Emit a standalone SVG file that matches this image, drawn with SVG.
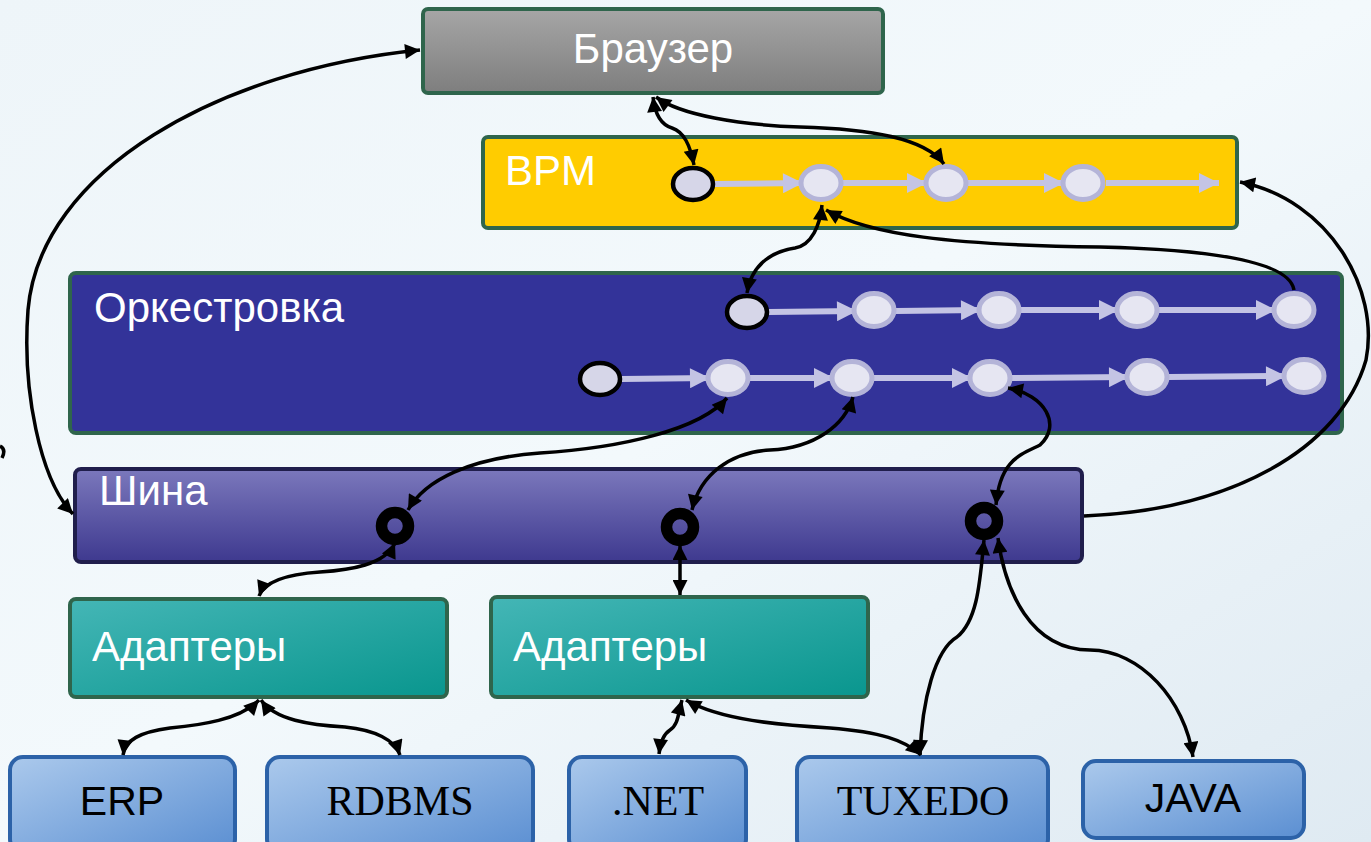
<svg xmlns="http://www.w3.org/2000/svg" width="1371" height="842" viewBox="0 0 1371 842">
<defs>
<linearGradient id="bg" x1="0" y1="0" x2="1" y2="1"><stop offset="0" stop-color="#eef5f9"/><stop offset="0.5" stop-color="#f3f9fc"/><stop offset="1" stop-color="#dfeaf2"/></linearGradient>
<linearGradient id="gBrowser" x1="0" y1="0" x2="0" y2="1"><stop offset="0" stop-color="#a6a6a6"/><stop offset="1" stop-color="#7e7e7e"/></linearGradient>
<linearGradient id="gBus" x1="0" y1="0" x2="0" y2="1"><stop offset="0" stop-color="#7b78bc"/><stop offset="1" stop-color="#3e398f"/></linearGradient>
<linearGradient id="gAd" x1="0" y1="0" x2="1" y2="1"><stop offset="0" stop-color="#44b6b6"/><stop offset="1" stop-color="#09968e"/></linearGradient>
<linearGradient id="gSys" x1="0" y1="0" x2="1" y2="1"><stop offset="0" stop-color="#abc9ec"/><stop offset="1" stop-color="#5b8fd2"/></linearGradient>
<marker id="ah" viewBox="0 0 10 10" refX="10" refY="5" markerWidth="19" markerHeight="15" markerUnits="userSpaceOnUse" orient="auto-start-reverse"><path d="M0,0 L10,5 L0,10 z" fill="#000"/></marker>
<marker id="fl" viewBox="0 0 10 10" refX="10" refY="5" markerWidth="22" markerHeight="20" markerUnits="userSpaceOnUse" orient="auto"><path d="M0,0 L10,5 L0,10 z" fill="#c4c4e4"/></marker>
</defs>
<style>
.lbl{font-family:"Liberation Sans",Arial,sans-serif;font-size:42px;fill:#fff}
.sys{font-family:"Liberation Sans",Arial,sans-serif;font-size:41px;fill:#000;text-anchor:middle}
.sysr{font-family:"Liberation Serif","Times New Roman",serif;font-size:42px;fill:#000;text-anchor:middle}
.box{stroke:#2f654c;stroke-width:4}
.sbox{fill:url(#gSys);stroke:#2c62a8;stroke-width:4}
.flow{stroke:#c4c4e4;stroke-width:6;fill:none;marker-end:url(#fl)}
.st{fill:#d6d6e8;stroke:#000;stroke-width:4.5}
.nd{fill:#e6e6f2;stroke:#b4b4d8;stroke-width:5}
.port{fill:none;stroke:#000;stroke-width:11.5}
.c{fill:none;stroke:#000;stroke-width:3.5}
.bi{marker-start:url(#ah);marker-end:url(#ah)}
.one{marker-end:url(#ah)}
</style>
<rect x="0" y="0" width="1371" height="842" fill="url(#bg)"/>

<g id="browser"><rect class="box" x="423" y="9" width="460" height="84" rx="5" fill="url(#gBrowser)"/><text class="lbl" x="653" y="63" text-anchor="middle">Браузер</text></g>

<g id="bpm"><rect class="box" x="483" y="137" width="754" height="91" rx="5" fill="#ffcc00"/><text class="lbl" x="505" y="185">BPM</text>
<line class="flow" x1="715" y1="184" x2="803" y2="183"/>
<line class="flow" x1="843" y1="183" x2="927" y2="183"/>
<line class="flow" x1="968" y1="183" x2="1064" y2="183"/>
<line class="flow" x1="1106" y1="183" x2="1219" y2="183"/>
<ellipse class="st" cx="693" cy="184" rx="20" ry="16"/>
<ellipse class="nd" cx="821" cy="183" rx="20" ry="16.5"/>
<ellipse class="nd" cx="946" cy="183" rx="20" ry="16.5"/>
<ellipse class="nd" cx="1083" cy="183" rx="20" ry="16.5"/>
</g>

<g id="orchestration"><rect class="box" x="70" y="273" width="1272" height="160" rx="6" fill="#333399"/><text class="lbl" x="94" y="322">Оркестровка</text>
<line class="flow" x1="769" y1="312" x2="857" y2="311"/>
<line class="flow" x1="896" y1="311" x2="981" y2="310"/>
<line class="flow" x1="1021" y1="310" x2="1119" y2="310"/>
<line class="flow" x1="1159" y1="310" x2="1276" y2="310"/>
<line class="flow" x1="622" y1="379" x2="710" y2="378"/>
<line class="flow" x1="750" y1="378" x2="834" y2="378"/>
<line class="flow" x1="874" y1="378" x2="972" y2="378"/>
<line class="flow" x1="1012" y1="378" x2="1129" y2="377"/>
<line class="flow" x1="1169" y1="377" x2="1286" y2="376"/>
<ellipse class="st" cx="747" cy="312" rx="20" ry="16"/>
<ellipse class="nd" cx="874" cy="310" rx="20" ry="16.5"/>
<ellipse class="nd" cx="999" cy="310" rx="20" ry="16.5"/>
<ellipse class="nd" cx="1137" cy="310" rx="20" ry="16.5"/>
<ellipse class="nd" cx="1294" cy="310" rx="20" ry="16.5"/>
<ellipse class="st" cx="600" cy="379" rx="20" ry="16"/>
<ellipse class="nd" cx="728" cy="378" rx="20" ry="16.5"/>
<ellipse class="nd" cx="852" cy="378" rx="20" ry="16.5"/>
<ellipse class="nd" cx="990" cy="378" rx="20" ry="16.5"/>
<ellipse class="nd" cx="1147" cy="377" rx="20" ry="16.5"/>
<ellipse class="nd" cx="1304" cy="376" rx="20" ry="16.5"/>
</g>

<g id="bus"><rect x="75" y="469" width="1007" height="93" rx="6" fill="url(#gBus)" stroke="#201e4c" stroke-width="4"/><text class="lbl" x="99" y="505">Шина</text>
<ellipse class="port" cx="395" cy="526" rx="13.5" ry="13.5"/>
<ellipse class="port" cx="680" cy="527" rx="13.5" ry="13.5"/>
<ellipse class="port" cx="984" cy="521" rx="13.5" ry="13.5"/>
</g>

<g id="adapters1"><rect class="box" x="70" y="599" width="377" height="98" rx="6" fill="url(#gAd)"/><text class="lbl" x="92" y="661">Адаптеры</text></g>
<g id="adapters2"><rect class="box" x="491" y="597" width="377" height="100" rx="6" fill="url(#gAd)"/><text class="lbl" x="513" y="661">Адаптеры</text></g>

<g id="erp"><rect class="sbox" x="10" y="757" width="225" height="95" rx="13"/><text class="sys" x="122" y="815">ERP</text></g>
<g id="rdbms"><rect class="sbox" x="267" y="757" width="266" height="95" rx="13"/><text class="sysr" x="400" y="815">RDBMS</text></g>
<g id="dotnet"><rect class="sbox" x="569" y="757" width="177" height="95" rx="13"/><text class="sysr" x="658" y="815">.NET</text></g>
<g id="tuxedo"><rect class="sbox" x="797" y="757" width="251" height="95" rx="13"/><text class="sysr" x="923" y="815">TUXEDO</text></g>
<g id="java"><rect class="sbox" x="1083" y="761" width="221" height="77" rx="13"/><text class="sys" x="1193" y="812">JAVA</text></g>

<g id="connectors">
<path class="c bi" d="M 420 50 C 220 70, 40 170, 28 310 C 22 390, 40 480, 73 514"/>
<path class="c bi" d="M 653 97 C 655 115, 662 125, 672 128 C 684 132, 690 145, 694 165"/>
<path class="c bi" d="M 656 97 C 680 115, 740 125, 800 127 C 870 129, 925 138, 944 164"/>
<path class="c bi" d="M 822 205 C 820 225, 812 245, 795 248 C 775 251, 752 262, 747 293"/>
<path class="c one" d="M 1294 290 C 1290 265, 1230 250, 1100 247 C 950 245, 870 235, 826 210"/>
<path class="c one" d="M 1084 516 C 1230 510, 1340 450, 1366 360 C 1380 290, 1330 200, 1240 182"/>
<path class="c bi" d="M 727 398 C 700 430, 620 448, 540 453 C 470 458, 425 480, 408 510"/>
<path class="c bi" d="M 853 397 C 845 425, 815 448, 770 450 C 730 452, 700 475, 692 510"/>
<path class="c bi" d="M 1008 388 C 1045 395, 1062 425, 1040 445 C 1020 455, 1000 460, 996 505"/>
<path class="c bi" d="M 395 543 C 385 565, 350 570, 320 572 C 290 574, 265 580, 259 596"/>
<path class="c bi" d="M 680 545 L 680 595"/>
<path class="c bi" d="M 984 540 C 980 580, 978 620, 957 637 C 935 650, 922 700, 920 755"/>
<path class="c bi" d="M 998 538 C 1005 590, 1030 650, 1090 650 C 1140 650, 1185 700, 1193 757"/>
<path class="c bi" d="M 259 700 C 240 720, 200 725, 170 728 C 140 732, 125 740, 123 755"/>
<path class="c bi" d="M 261 700 C 275 720, 310 725, 345 727 C 375 730, 395 740, 400 755"/>
<path class="c bi" d="M 682 700 C 678 715, 678 725, 670 730 C 662 735, 660 745, 659 754"/>
<path class="c bi" d="M 686 700 C 720 720, 780 725, 830 728 C 880 732, 905 740, 921 755"/>
<path class="c" d="M 0 446 C 4 448, 5 452, 2 458"/>
</g>
</svg>
